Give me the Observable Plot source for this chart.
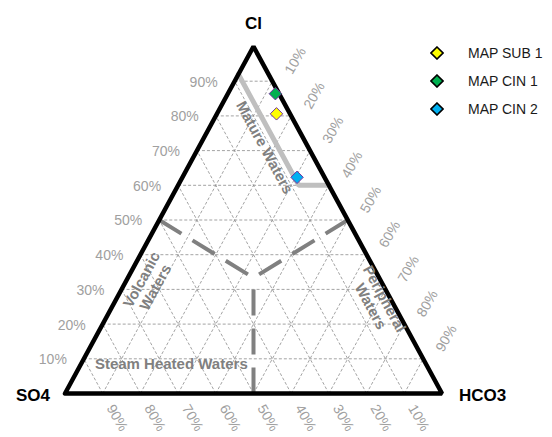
<!DOCTYPE html>
<html>
<head>
<meta charset="utf-8">
<script src="https://cdn.jsdelivr.net/npm/d3@7"></script>
<script src="https://cdn.jsdelivr.net/npm/@observablehq/plot@0.6"></script>
<style>
  body { margin: 0; background: #fff; }
  #chart { position: relative; width: 552px; height: 437px; font-family: "Liberation Sans", Arial, sans-serif; }
  #chart svg { display: block; }
  .legend { position: absolute; left: 430px; top: 39px; }
  .legend .row { display: flex; align-items: center; height: 28px; font-size: 14px; color: #1a1a1a; }
  .legend .row svg { margin-right: 24px; }
</style>
</head>
<body>
<div id="chart"></div>
<script>
// Water samples, composition in % of Cl, SO4 and HCO3
const samples = ["MAP SUB 1", "MAP CIN 1", "MAP CIN 2"];
const sampleCl = [80.6, 86.4, 62.3];
const sampleSO4 = [3.6, 1.0, 7.3];
const sampleHCO3 = [15.8, 12.6, 30.4];
const sampleColors = ["#ffff00", "#00b050", "#00b0f0"];

// Grid levels and their labels
const gridLevels = [10, 20, 30, 40, 50, 60, 70, 80, 90];
const gridLabels = ["10%", "20%", "30%", "40%", "50%", "60%", "70%", "80%", "90%"];

// Apexes of the diagram
const cornerNames = ["SO4", "HCO3", "Cl"];
const cornerCl = [0, 0, 100];
const cornerSO4 = [100, 0, 0];
const cornerHCO3 = [0, 100, 0];

// Mature waters boundary (constant SO4 then constant Cl)
const matureCl = [92, 60, 60];
const matureSO4 = [8, 8, 0];
const matureHCO3 = [0, 32, 40];

// Field divisions: edge midpoints joined to the centroid
const divisionFromCl = [50, 50, 0];
const divisionFromSO4 = [50, 0, 50];
const divisionFromHCO3 = [0, 50, 50];

// Field names and where they sit
const zoneNames = ["Mature Waters", "Volcanic\nWaters", "Peripheral\nWaters", "Steam Heated Waters"];
const zoneCl = [70.9, 31.7, 26.2, 8.4];
const zoneSO4 = [11.6, 62.0, 4.0, 67.6];
const zoneHCO3 = [17.5, 6.3, 69.8, 24.0];

// Ternary composition -> cartesian (SO4 at left, HCO3 at right, Cl on top)
const tern = (cl, so4, hco3) => {
  const t = cl + so4 + hco3;
  return {x: (hco3 + cl / 2) / t, y: cl / t};
};

const W = 552, H = 437;
const mL = 64.5, mR = 110.5, mT = 46, mB = 44;
const edgeAngle = Math.atan2(H - mT - mB, (W - mL - mR) / 2) * 180 / Math.PI;

const font = '"Liberation Sans", Arial, sans-serif';

// Grid segments
const grid = [];
gridLevels.forEach(v => {
  const a = tern(v, 100 - v, 0), b = tern(v, 0, 100 - v);      // constant Cl
  const c = tern(0, 100 - v, v), d = tern(100 - v, 0, v);      // constant HCO3
  const e = tern(0, v, 100 - v), f = tern(100 - v, v, 0);      // constant SO4
  grid.push({x1: a.x, y1: a.y, x2: b.x, y2: b.y});
  grid.push({x1: c.x, y1: c.y, x2: d.x, y2: d.y});
  grid.push({x1: e.x, y1: e.y, x2: f.x, y2: f.y});
});

const centroid = tern(1, 1, 1);
const divisions = divisionFromCl.map((cl, i) => {
  const p = tern(cl, divisionFromSO4[i], divisionFromHCO3[i]);
  return {x1: p.x, y1: p.y, x2: centroid.x, y2: centroid.y};
});

const triangle = cornerCl.map((cl, i) => tern(cl, cornerSO4[i], cornerHCO3[i]));
const outline = [...triangle, triangle[0]];
const corners = cornerNames.map((name, i) => ({name, ...triangle[i]}));

const mature = matureCl.map((cl, i) => tern(cl, matureSO4[i], matureHCO3[i]));

const zones = zoneNames.map((name, i) => ({name, ...tern(zoneCl[i], zoneSO4[i], zoneHCO3[i])}));

const leftTicks = gridLevels.map((v, i) => ({label: gridLabels[i], ...tern(v, 100 - v, 0)}));
const rightTicks = gridLevels.map((v, i) => ({label: gridLabels[i], ...tern(100 - v, 0, v)}));
const bottomTicks = gridLevels.map((v, i) => ({label: gridLabels[i], ...tern(0, v, 100 - v)}));

const points = samples.map((name, i) => ({
  name, color: sampleColors[i], ...tern(sampleCl[i], sampleSO4[i], sampleHCO3[i])
}));

const tickStyle = {fill: "#a0a0a0", fontSize: 14, fontFamily: font};
const zoneStyle = {fill: "#808080", fontSize: 15, fontWeight: "bold", fontFamily: font, lineHeight: 1.05};

const chart = Plot.plot({
  width: W,
  height: H,
  marginLeft: mL,
  marginRight: mR,
  marginTop: mT,
  marginBottom: mB,
  x: {domain: [0, 1], axis: null},
  y: {domain: [0, 1], axis: null},
  style: {fontFamily: font, background: "#fff", overflow: "visible"},
  marks: [
    Plot.link(grid, {x1: "x1", y1: "y1", x2: "x2", y2: "y2", stroke: "#8c8c8c", strokeWidth: 0.8, strokeDasharray: "3,2"}),
    Plot.link(divisions, {x1: "x1", y1: "y1", x2: "x2", y2: "y2", stroke: "#808080", strokeWidth: 4, strokeDasharray: "26,13"}),
    Plot.line(mature, {x: "x", y: "y", stroke: "#bfbfbf", strokeWidth: 5, strokeLinejoin: "miter"}),
    Plot.line(outline, {x: "x", y: "y", stroke: "#000", strokeWidth: 4.5, strokeLinejoin: "miter"}),
    // field names
    Plot.text(zones.filter(d => d.name === "Mature Waters" || d.name.startsWith("Peripheral")),
      {x: "x", y: "y", text: "name", rotate: edgeAngle, ...zoneStyle}),
    Plot.text(zones.filter(d => d.name.startsWith("Volcanic")),
      {x: "x", y: "y", text: "name", rotate: -edgeAngle, ...zoneStyle}),
    Plot.text(zones.filter(d => d.name.startsWith("Steam")),
      {x: "x", y: "y", text: "name", ...zoneStyle}),
    // percentage labels on the three edges
    Plot.text(leftTicks, {x: "x", y: "y", text: "label", textAnchor: "end", dx: -17, dy: 1, ...tickStyle}),
    Plot.text(rightTicks, {x: "x", y: "y", text: "label", textAnchor: "start", lineAnchor: "bottom", rotate: -60, dx: 20, dy: -6, ...tickStyle}),
    Plot.text(bottomTicks, {x: "x", y: "y", text: "label", textAnchor: "start", lineAnchor: "bottom", rotate: 60, dx: 3.5, dy: 14.5, ...tickStyle}),
    // apex names
    Plot.text(corners.filter(d => d.name === "Cl"), {x: "x", y: "y", text: "name", lineAnchor: "bottom", dy: -17.7, fontSize: 17, fontWeight: "bold", fill: "#000", fontFamily: font}),
    Plot.text(corners.filter(d => d.name === "SO4"), {x: "x", y: "y", text: "name", textAnchor: "end", lineAnchor: "bottom", dx: -15, dy: 7, fontSize: 17, fontWeight: "bold", fill: "#000", fontFamily: font}),
    Plot.text(corners.filter(d => d.name === "HCO3"), {x: "x", y: "y", text: "name", textAnchor: "start", lineAnchor: "bottom", dx: 17, dy: 7, fontSize: 17, fontWeight: "bold", fill: "#000", fontFamily: font}),
    // samples
    Plot.dot(points, {x: "x", y: "y", symbol: "diamond2", r: 5.6, fill: "color", stroke: "#7030a0", strokeWidth: 1})
  ]
});

const root = document.getElementById("chart");
root.appendChild(chart);

// Legend
const legend = document.createElement("div");
legend.className = "legend";
samples.forEach((name, i) => {
  const row = document.createElement("div");
  row.className = "row";
  row.innerHTML = `<svg width="14" height="14" viewBox="-7 -7 14 14"><polygon points="0,-6 6,0 0,6 -6,0" fill="${sampleColors[i]}" stroke="#000" stroke-width="1.6"/></svg><span>${name}</span>`;
  legend.appendChild(row);
});
root.appendChild(legend);
</script>
</body>
</html>
